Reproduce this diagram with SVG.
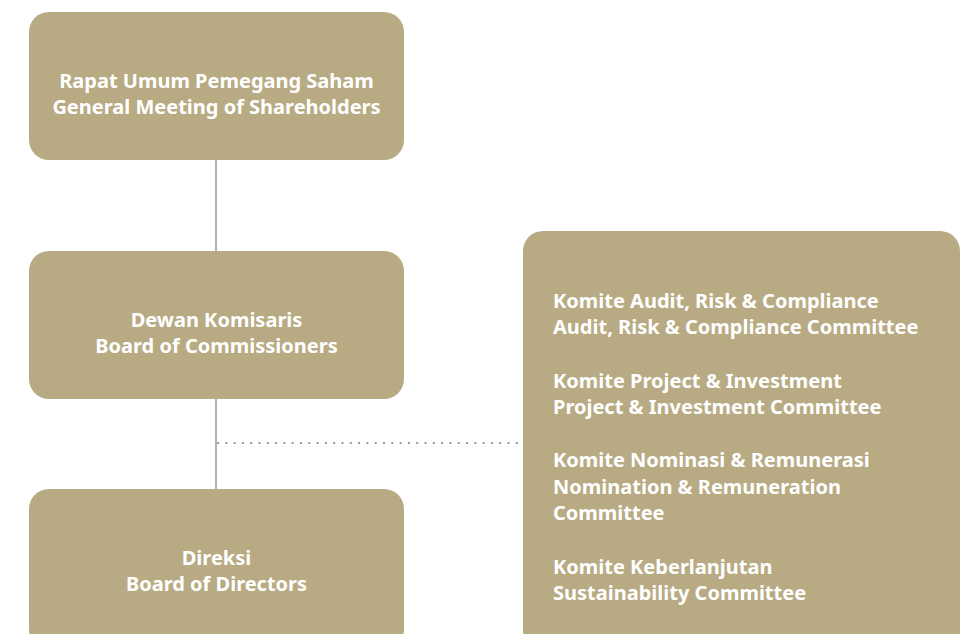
<svg xmlns="http://www.w3.org/2000/svg" width="960" height="634" viewBox="0 0 960 634">
<style>
.box{fill:#b8ab83;}
.t{font-family:"Noto Sans","Open Sans","DejaVu Sans",sans-serif;font-weight:bold;font-size:20px;fill:#ffffff;}
.c{text-anchor:middle;}
.solid{stroke:#b3b3b3;stroke-width:2;fill:none;}
.dot{stroke:#9a9a9a;stroke-width:2;fill:none;stroke-dasharray:2 6.3;}
</style>
<rect width="960" height="634" fill="#ffffff"/>
<g id="connectors">
<line class="solid" x1="216" y1="160" x2="216" y2="251"/>
<line class="solid" x1="216" y1="399" x2="216" y2="489"/>
<line class="dot" x1="217" y1="443" x2="523" y2="443"/>
</g>
<g id="rups">
<rect class="box" x="29" y="12" width="375" height="148" rx="20"/>
<text class="t c" x="216.5" y="88">Rapat Umum Pemegang Saham</text>
<text class="t c" x="216.5" y="114">General Meeting of Shareholders</text>
</g>
<g id="dekom">
<rect class="box" x="29" y="251" width="375" height="148" rx="20"/>
<text class="t c" x="216.5" y="327">Dewan Komisaris</text>
<text class="t c" x="216.5" y="353">Board of Commissioners</text>
</g>
<g id="direksi">
<rect class="box" x="29" y="489" width="375" height="160" rx="20"/>
<text class="t c" x="216.5" y="565">Direksi</text>
<text class="t c" x="216.5" y="591">Board of Directors</text>
</g>
<g id="komite">
<rect class="box" x="523" y="231" width="437" height="420" rx="20"/>
<text class="t" x="553" y="308">Komite Audit, Risk &amp; Compliance</text>
<text class="t" x="553" y="334">Audit, Risk &amp; Compliance Committee</text>
<text class="t" x="553" y="388">Komite Project &amp; Investment</text>
<text class="t" x="553" y="414">Project &amp; Investment Committee</text>
<text class="t" x="553" y="467">Komite Nominasi &amp; Remunerasi</text>
<text class="t" x="553" y="494">Nomination &amp; Remuneration</text>
<text class="t" x="553" y="520">Committee</text>
<text class="t" x="553" y="574">Komite Keberlanjutan</text>
<text class="t" x="553" y="600">Sustainability Committee</text>
</g>
</svg>
